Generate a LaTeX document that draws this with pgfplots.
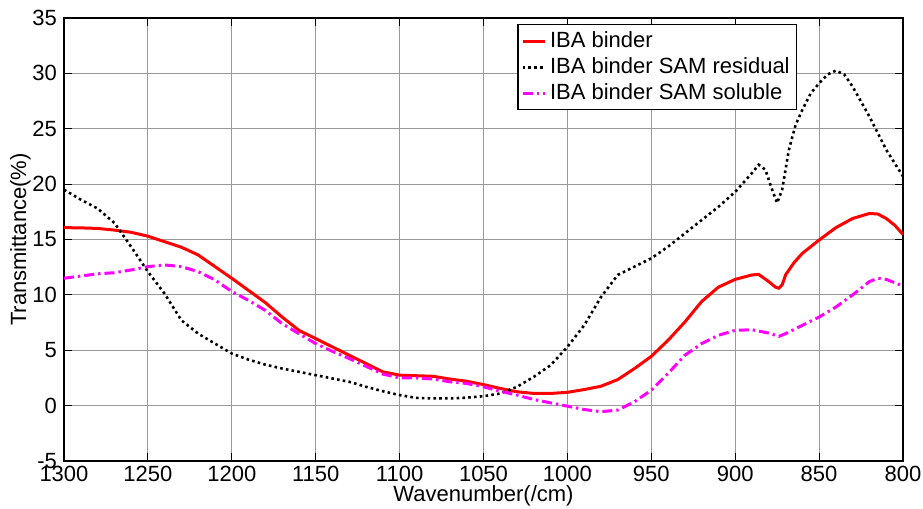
\documentclass[border=0pt]{standalone}
\usepackage{pgfplots}
\pgfplotsset{compat=1.18}
\usepackage{fontspec}
\setmainfont{Liberation Sans}
\definecolor{mag}{RGB}{255,0,255}
\newcommand{\ff}{\fontsize{11}{13.2}\selectfont}
\begin{document}
\begin{tikzpicture}
\begin{axis}[
  scale only axis,
  width=419.5pt, height=221.5pt,
  x dir=reverse,
  xmin=800, xmax=1300, ymin=-5, ymax=35,
  xtick={800,850,...,1300}, ytick={-5,0,...,35},
  /pgf/number format/assume math mode=true,
  /pgf/number format/1000 sep={},
  tick label style={font=\ff},
  label style={font=\ff},
  xlabel={Wavenumber(/cm)},
  ylabel={Transmittance(\%)},
  xlabel style={yshift=5pt},
  ylabel style={yshift=-6pt},
  tick align=inside,
  major tick length=4pt,
  xticklabel style={yshift=1pt},
  grid=major,
  major grid style={gray!80, line width=0.4pt},
  axis line style={line width=0.8pt},
  every tick/.style={black, line width=0.4pt},
  legend style={at={(0.874,0.986)}, anchor=north east, draw=black, line width=0.6pt, fill=white, font=\ff, inner sep=1.5pt, row sep=-0.5pt, cells={anchor=west}},
  legend image code/.code={\draw[#1, line width=1.5pt] (0pt,0pt) -- (11pt,0pt);},
  legend cell align=left,
]
\addplot[red, line width=1.5pt] coordinates {
(1300,16.07) (1290,16.05) (1280,16.0) (1270,15.85) (1260,15.65) (1250,15.3) (1240,14.8) (1230,14.3) (1220,13.6)
(1210,12.55) (1200,11.5) (1190,10.4) (1180,9.3) (1170,8.0) (1160,6.8) (1150,6.05) (1140,5.3) (1130,4.55)
(1120,3.8) (1110,3.05) (1100,2.75) (1090,2.7) (1080,2.65) (1070,2.4) (1060,2.2) (1050,1.9) (1040,1.55)
(1030,1.25) (1020,1.1) (1010,1.1) (1000,1.2) (990,1.45) (980,1.75) (970,2.35) (960,3.35) (950,4.45)
(940,5.9) (930,7.55) (920,9.4) (910,10.7) (900,11.4) (890,11.8) (886,11.85) (880,11.2) (876,10.7) (874,10.6)
(872,10.9) (870,11.8) (865,12.9) (860,13.75) (850,14.95) (840,16.07) (830,16.9) (820,17.35) (815,17.3)
(810,16.9) (805,16.3) (800,15.45)
};
\addlegendentry{IBA binder}
\addplot[black, line width=1.3pt, dash pattern=on 1.3pt off 1.6pt] coordinates {
(1300,19.5) (1290,18.6) (1280,17.8) (1270,16.5) (1260,14.35) (1250,12.1) (1240,10.1) (1230,7.7) (1220,6.5)
(1210,5.6) (1200,4.7) (1190,4.15) (1180,3.7) (1170,3.35) (1160,3.05) (1150,2.75) (1140,2.45) (1130,2.15)
(1120,1.7) (1110,1.3) (1100,0.95) (1090,0.7) (1080,0.65) (1070,0.65) (1060,0.72) (1050,0.85) (1040,1.1)
(1030,1.7) (1020,2.6) (1010,3.65) (1000,5.3) (990,7.25) (980,9.8) (970,11.8) (960,12.55) (950,13.3)
(940,14.35) (930,15.55) (920,16.75) (910,17.95) (900,19.3) (890,21.0) (886,21.75) (882,21.3) (878,19.5)
(875,18.3) (872,19.5) (868,23.1) (864,25.35) (860,26.7) (855,28.2) (850,29.1) (845,29.9) (840,30.25)
(835,29.9) (830,28.8) (820,26.1) (810,23.1) (800,20.7)
};
\addlegendentry{IBA binder SAM residual}
\addplot[mag, line width=1.5pt, dash pattern=on 5pt off 2pt on 1.2pt off 2pt] coordinates {
(1300,11.5) (1290,11.7) (1280,11.9) (1270,12.0) (1260,12.25) (1250,12.55) (1240,12.7) (1230,12.55) (1220,12.1)
(1210,11.35) (1200,10.3) (1190,9.5) (1180,8.6) (1170,7.4) (1160,6.5) (1150,5.6) (1140,4.9) (1130,4.25)
(1120,3.55) (1110,2.85) (1100,2.5) (1090,2.5) (1080,2.4) (1070,2.15) (1060,2.0) (1050,1.7) (1040,1.3)
(1030,0.95) (1020,0.55) (1010,0.25) (1000,-0.05) (990,-0.35) (980,-0.55) (970,-0.4) (960,0.35) (950,1.4)
(940,2.9) (930,4.55) (920,5.6) (910,6.35) (900,6.8) (890,6.85) (880,6.55) (874,6.25) (870,6.5) (860,7.25)
(850,8.0) (840,8.9) (830,10.0) (820,11.2) (815,11.5) (810,11.4) (800,10.8)
};
\addlegendentry{IBA binder SAM soluble}
\end{axis}
\pgfresetboundingbox
\path (current axis.south west) ++(-32pt,-23.5pt) coordinate (bl);
\path (current axis.north east) ++(10pt,9pt) coordinate (tr);
\path (bl) rectangle (tr);
\end{tikzpicture}
\end{document}
